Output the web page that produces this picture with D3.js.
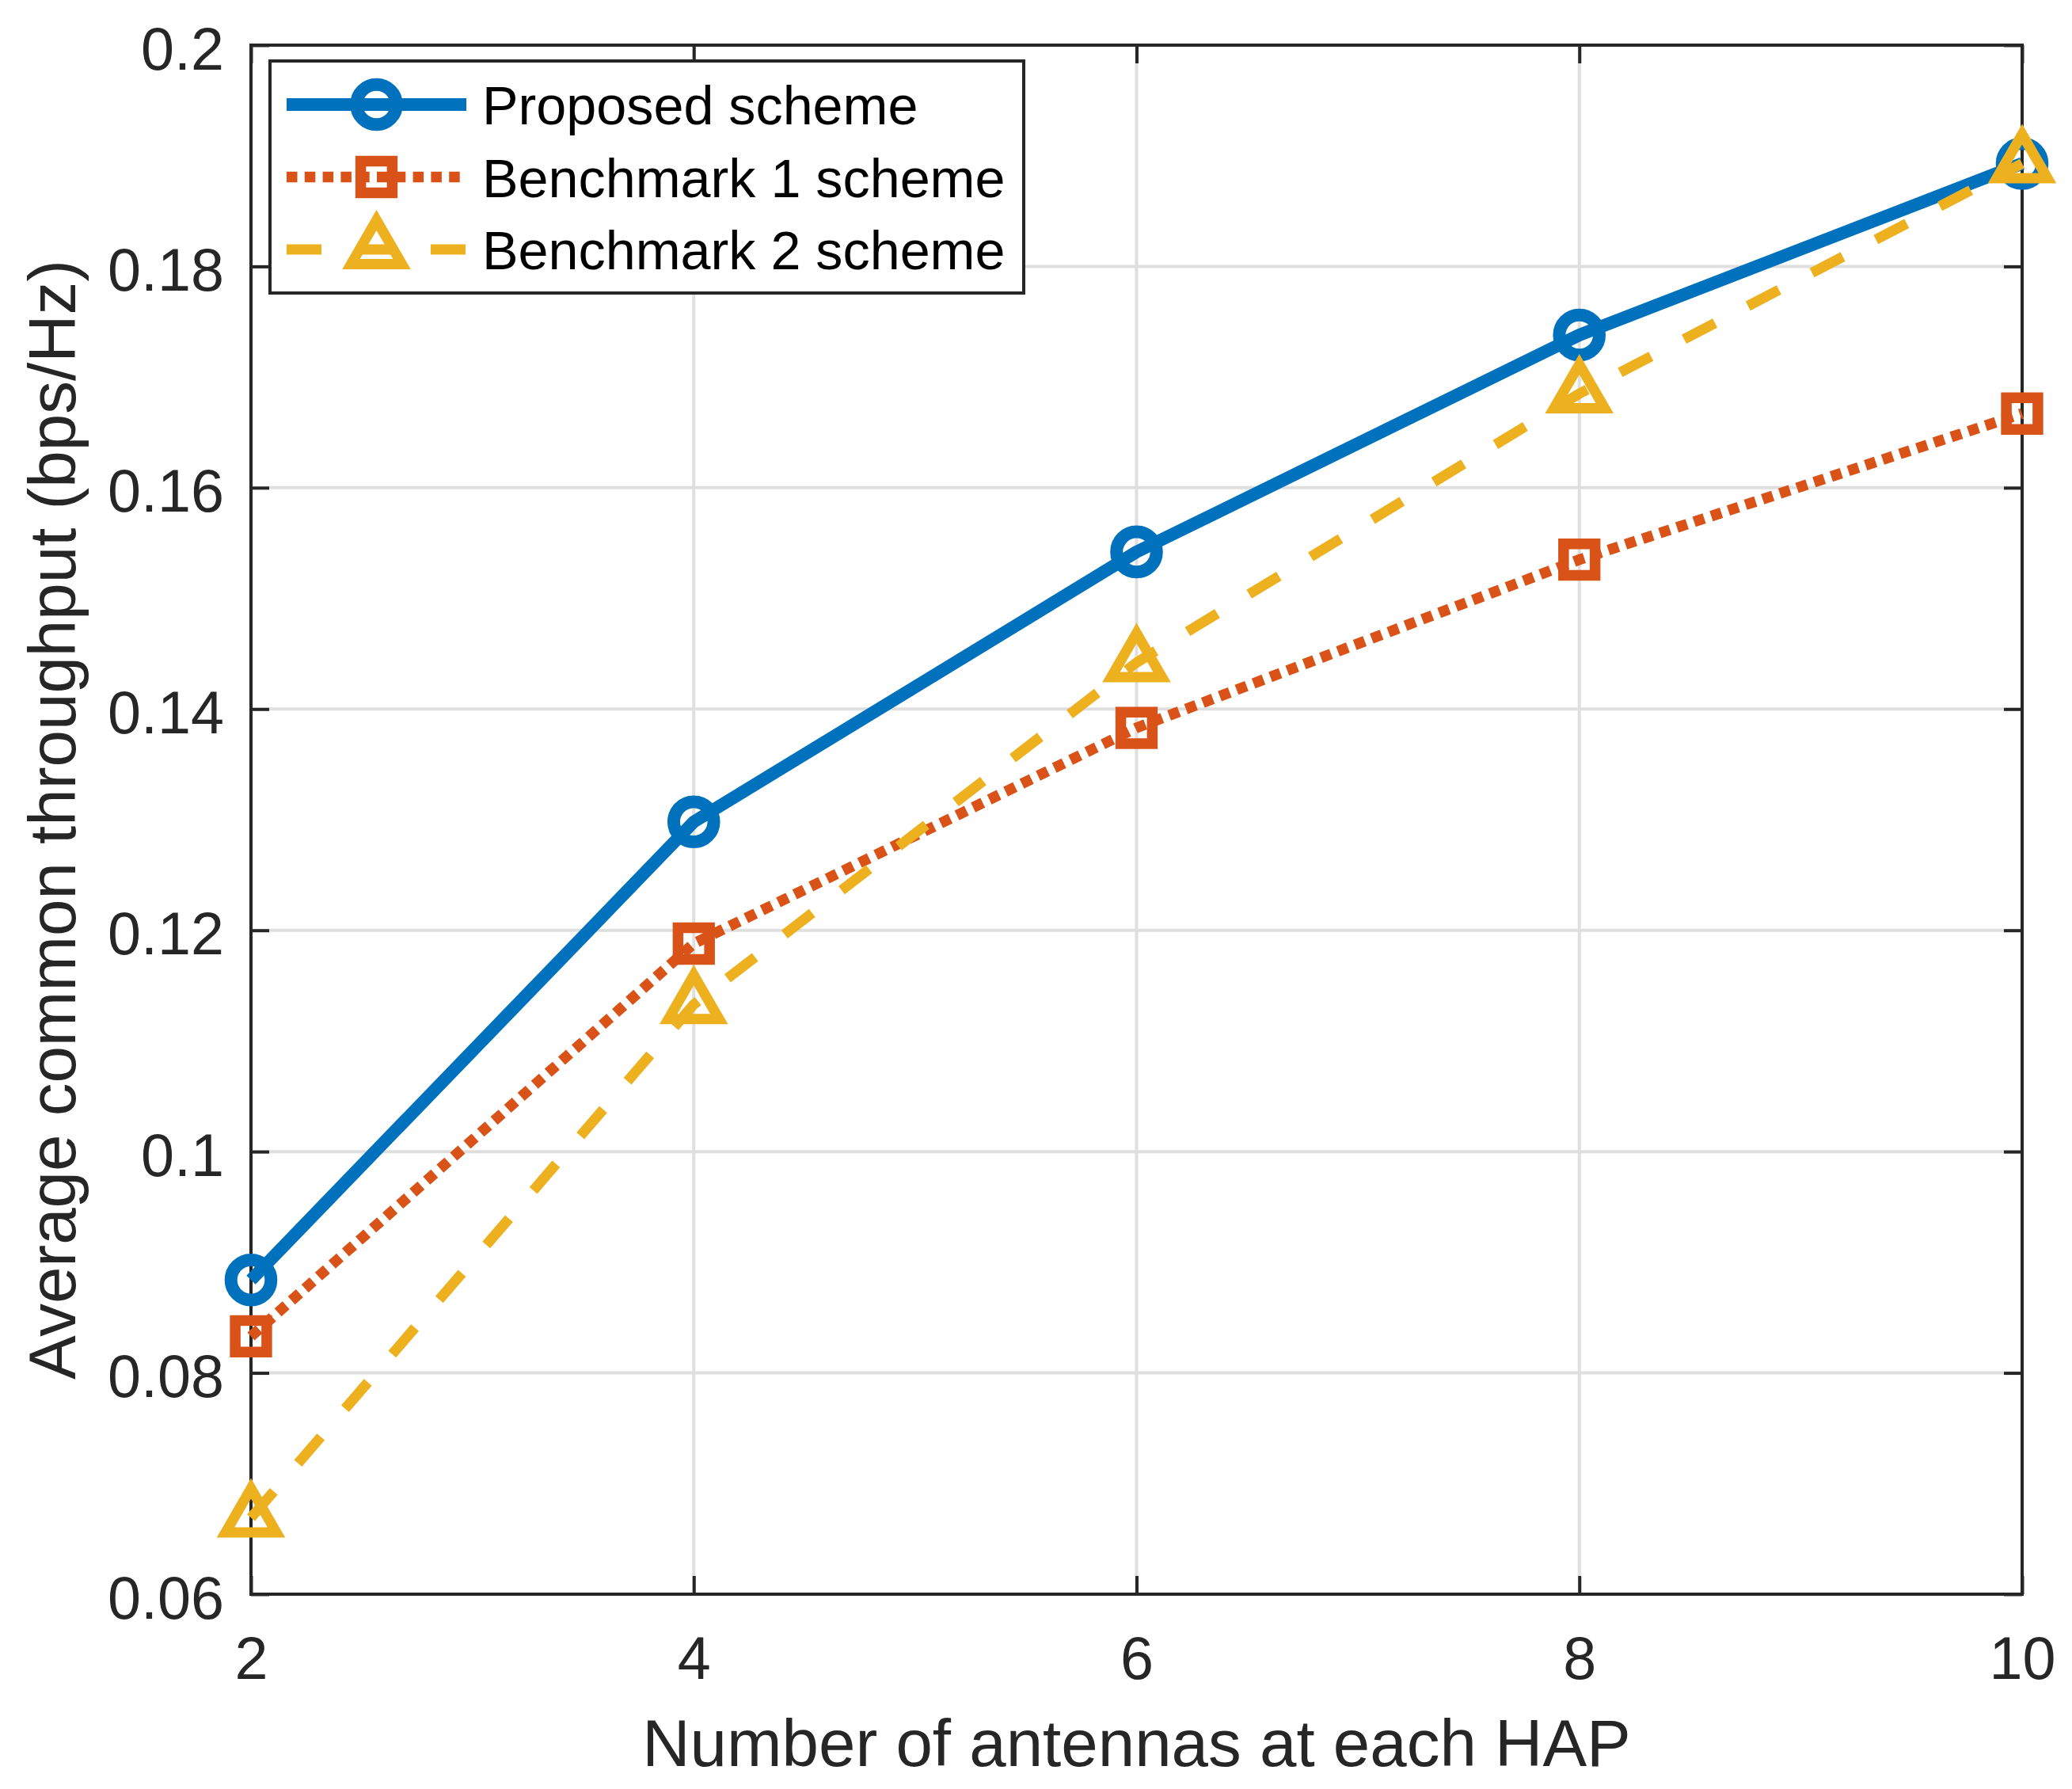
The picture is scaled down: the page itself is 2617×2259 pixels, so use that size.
<!DOCTYPE html>
<html>
<head>
<meta charset="utf-8">
<script src="https://cdn.jsdelivr.net/npm/d3@7"></script>
<style>
  body { margin: 0; background: #fff; }
  svg text { font-family: "Liberation Sans", Arial, Helvetica, sans-serif; }
</style>
</head>
<body>
<div id="chart"></div>
<script>
// values
const antennas = [2, 4, 6, 8, 10];
const proposed = [0.0884, 0.1298, 0.1542, 0.1738, 0.1893];
const benchmark1 = [0.0833, 0.1188, 0.1383, 0.1535, 0.1667];
const benchmark2 = [0.0669, 0.1133, 0.1442, 0.1685, 0.1893];
const seriesNames = ['Proposed scheme', 'Benchmark 1 scheme', 'Benchmark 2 scheme'];
const xTicks = [2, 4, 6, 8, 10];
const yTicks = [0.06, 0.08, 0.1, 0.12, 0.14, 0.16, 0.18, 0.2];

const W = 2617, H = 2259;
const box = { left: 317, right: 2554, top: 57, bottom: 2013 };
const axisColor = '#262626';

const svg = d3.select('#chart').append('svg')
  .attr('width', W)
  .attr('height', H);

const x = d3.scaleLinear().domain([2, 10]).range([box.left, box.right]);
const y = d3.scaleLinear().domain([0.06, 0.2]).range([box.bottom, box.top]);

// grid
const grid = svg.append('g').attr('stroke', '#dfdfdf').attr('stroke-width', 4);
grid.selectAll('.gx')
  .data(xTicks.slice(1, -1))
  .join('line')
  .attr('x1', d => x(d)).attr('x2', d => x(d))
  .attr('y1', box.top).attr('y2', box.bottom);
grid.selectAll('.gy')
  .data(yTicks.slice(1, -1))
  .join('line')
  .attr('x1', box.left).attr('x2', box.right)
  .attr('y1', d => y(d)).attr('y2', d => y(d));

// axes, ticks pointing inward on all four sides
const fmtY = d => String(+d.toFixed(2));
function styleAxis(g) {
  g.select('.domain').remove();
  g.selectAll('.tick line').attr('stroke', axisColor).attr('stroke-width', 4);
  g.selectAll('.tick text').attr('fill', axisColor).attr('font-size', 75.5);
}
svg.append('g')
  .attr('transform', `translate(0,${box.bottom})`)
  .call(d3.axisBottom(x).tickValues(xTicks).tickSize(-23).tickPadding(53).tickFormat(d3.format('d')))
  .call(styleAxis);
svg.append('g')
  .attr('transform', `translate(0,${box.top})`)
  .call(d3.axisTop(x).tickValues(xTicks).tickSize(-23).tickFormat(''))
  .call(styleAxis);
svg.append('g')
  .attr('transform', `translate(${box.left},0)`)
  .call(d3.axisLeft(y).tickValues(yTicks).tickSize(-23).tickPadding(34).tickFormat(fmtY))
  .call(styleAxis)
  .call(g => g.selectAll('.tick text').attr('dy', 30));
svg.append('g')
  .attr('transform', `translate(${box.right},0)`)
  .call(d3.axisRight(y).tickValues(yTicks).tickSize(-23).tickFormat(''))
  .call(styleAxis);

svg.append('rect')
  .attr('x', box.left).attr('y', box.top)
  .attr('width', box.right - box.left).attr('height', box.bottom - box.top)
  .attr('fill', 'none').attr('stroke', axisColor).attr('stroke-width', 4);

// axis labels
svg.append('text')
  .attr('x', (box.left + box.right) / 2)
  .attr('y', 2230)
  .attr('text-anchor', 'middle')
  .attr('font-size', 83.5)
  .attr('fill', axisColor)
  .text('Number of antennas at each HAP');
svg.append('text')
  .attr('transform', `translate(95,${(box.top + box.bottom) / 2}) rotate(-90)`)
  .attr('text-anchor', 'middle')
  .attr('font-size', 83.5)
  .attr('fill', axisColor)
  .text('Average common throughput (bps/Hz)');

// series
const series = [
  { name: seriesNames[0], values: proposed, color: '#0072BD', lw: 16, dash: null,
    symbol: d3.symbol(d3.symbolCircle, Math.PI * 25.3 * 25.3) },
  { name: seriesNames[1], values: benchmark1, color: '#D95319', lw: 13.5, dash: '13.5,9.3',
    symbol: d3.symbol(d3.symbolSquare, 39.8 * 39.8) },
  { name: seriesNames[2], values: benchmark2, color: '#EDB120', lw: 13, dash: '44,47',
    symbol: d3.symbol(d3.symbolTriangle, 18.5 * 18.5 * 3 * Math.sqrt(3)) }
];

const line = d3.line()
  .x((d, i) => x(antennas[i]))
  .y(d => y(d));

series.forEach(s => {
  const g = svg.append('g');
  g.append('path')
    .attr('d', line(s.values))
    .attr('fill', 'none')
    .attr('stroke', s.color)
    .attr('stroke-width', s.lw)
    .attr('stroke-linejoin', 'round')
    .attr('stroke-dasharray', s.dash);
  g.selectAll('.mk')
    .data(s.values)
    .join('path')
    .attr('transform', (d, i) => `translate(${x(antennas[i])},${y(d)})`)
    .attr('d', s.symbol())
    .attr('fill', 'none')
    .attr('stroke', s.color)
    .attr('stroke-width', s.lw)
    .attr('stroke-linejoin', 'miter');
});

// legend
const legend = svg.append('g');
legend.append('rect')
  .attr('x', 341).attr('y', 77)
  .attr('width', 952).attr('height', 293)
  .attr('fill', '#fff')
  .attr('stroke', axisColor)
  .attr('stroke-width', 4);
const rowY = [132, 223.5, 315];
series.forEach((s, i) => {
  const row = legend.append('g').attr('transform', `translate(0,${rowY[i]})`);
  row.append('line')
    .attr('x1', 362).attr('x2', 589)
    .attr('stroke', s.color)
    .attr('stroke-width', s.lw)
    .attr('stroke-dasharray', s.dash);
  row.append('path')
    .attr('transform', 'translate(475.5,0)')
    .attr('d', s.symbol())
    .attr('fill', 'none')
    .attr('stroke', s.color)
    .attr('stroke-width', s.lw);
  row.append('text')
    .attr('x', 609).attr('y', 25)
    .attr('font-size', 68.3)
    .attr('fill', '#000')
    .text(s.name);
});
</script>
</body>
</html>
